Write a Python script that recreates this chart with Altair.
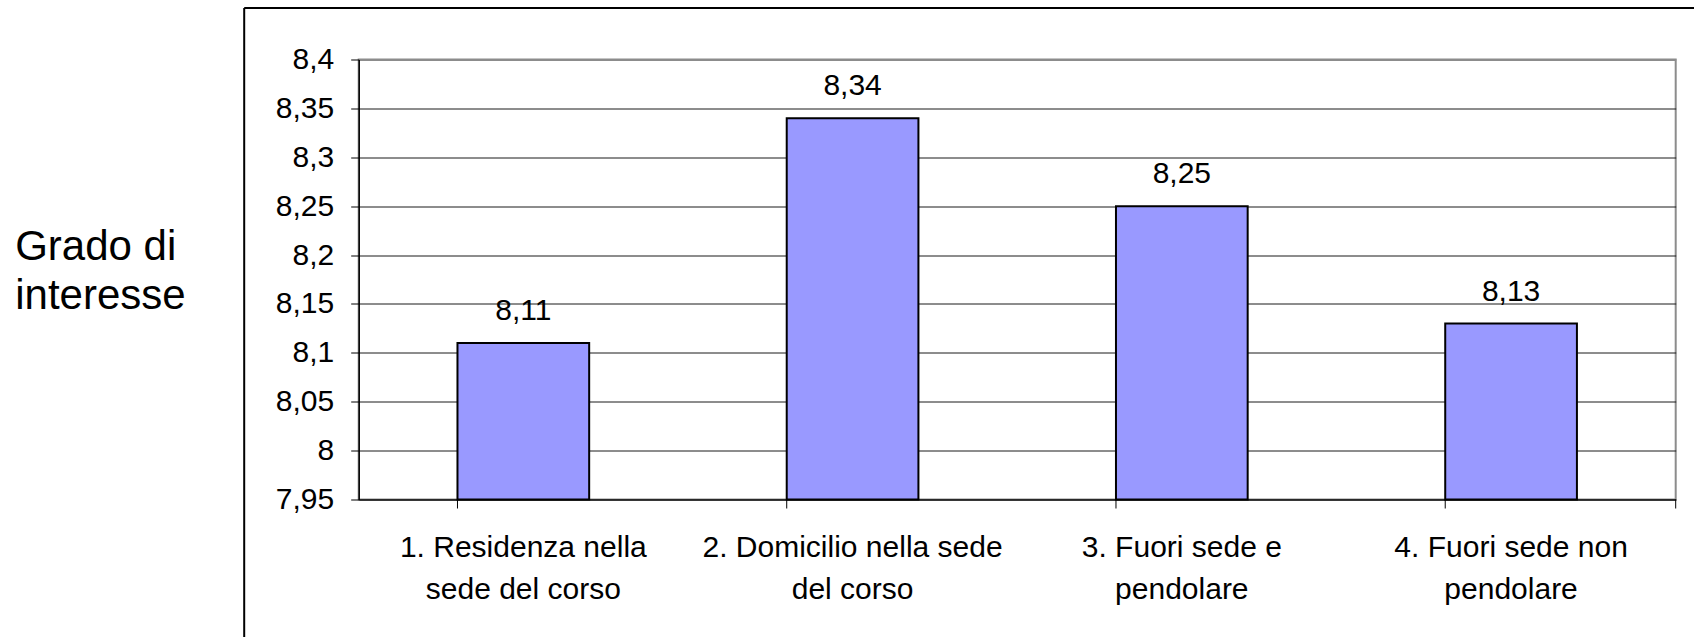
import altair as alt
import pandas as pd

# Average interest score by place of residence
categories = [
    "1. Residenza nella|sede del corso",
    "2. Domicilio nella sede|del corso",
    "3. Fuori sede e|pendolare",
    "4. Fuori sede non|pendolare",
]
values = [8.11, 8.34, 8.25, 8.13]
y_ticks = [7.95, 8.0, 8.05, 8.1, 8.15, 8.2, 8.25, 8.3, 8.35, 8.4]
y_min, y_max = 7.95, 8.4
y_title = ["Grado di", "interesse"]

FONT = "Liberation Sans"
FS = 30
W, H = 1317, 440

df = pd.DataFrame({"categoria": categories, "valore": values})
df["etichetta"] = [f"{v:.2f}".replace(".", ",") for v in values]

x_scale = alt.Scale(domain=categories, paddingInner=0.6, paddingOuter=0.3)
y_scale = alt.Scale(domain=[y_min, y_max], nice=False, zero=False)

base = alt.Chart(df)

bars = base.mark_bar(
    color="#9999FF", stroke="#000000", strokeWidth=2
).encode(
    x=alt.X(
        "categoria:N",
        scale=x_scale,
        sort=categories,
        axis=alt.Axis(
            title=None,
            labelAngle=0,
            labelExpr="split(datum.label, '|')",
            labelFont=FONT,
            labelFontSize=FS,
            labelColor="#000000",
            labelLineHeight=42,
            labelPadding=33,
            labelLimit=600,
            ticks=False,
            domainColor="#000000",
            domainWidth=1,
        ),
    ),
    y=alt.Y(
        "valore:Q",
        scale=y_scale,
        axis=alt.Axis(
            values=y_ticks,
            labelExpr="replace(format(datum.value, '.2~f'), '.', ',')",
            labelFont=FONT,
            labelFontSize=FS,
            labelColor="#000000",
            labelPadding=17,
            tickSize=8,
            tickColor="#000000",
            domainColor="#000000",
            domainWidth=1.5,
            grid=True,
            gridColor={
                "condition": {"test": "datum.value > 8.39", "value": "#8c8c8c"},
                "value": "#1a1a1a",
            },
            gridWidth={
                "condition": {"test": "datum.value > 8.39", "value": 2},
                "value": 1,
            },
            title=y_title,
            titleAngle=0,
            titleAlign="left",
            titleBaseline="alphabetic",
            titleX=-344,
            titleY=200,
            titleFont=FONT,
            titleFontSize=42,
            titleFontWeight="normal",
            titleColor="#000000",
            titleLineHeight=49,
        ),
    ),
    y2=alt.datum(y_min),
)

labels = base.mark_text(
    font=FONT, fontSize=FS, color="#000000", baseline="alphabetic", dy=-23
).encode(
    x=alt.X("categoria:N", scale=x_scale, sort=categories),
    y=alt.Y("valore:Q", scale=y_scale),
    text="etichetta:N",
)

# category boundary ticks below the x axis
ticks = base.mark_rule(color="#000000", strokeWidth=1).encode(
    x=alt.X("categoria:N", scale=x_scale, sort=categories, bandPosition=0),
    y=alt.value(H),
    y2=alt.value(H + 9),
)
end_tick = alt.Chart(pd.DataFrame({"k": [0]})).mark_rule(
    color="#000000", strokeWidth=1
).encode(x=alt.value(W), y=alt.value(H), y2=alt.value(H + 9))

# outer chart frame
frame_top = alt.Chart(pd.DataFrame({"k": [0]})).mark_rule(
    color="#000000", strokeWidth=2
).encode(x=alt.value(-114.5), x2=alt.value(W + 60), y=alt.value(-51.5))
frame_left = alt.Chart(pd.DataFrame({"k": [0]})).mark_rule(
    color="#000000", strokeWidth=2
).encode(x=alt.value(-114.5), y=alt.value(-51.5), y2=alt.value(H + 200))

chart = (
    alt.layer(bars, labels, ticks, end_tick, frame_top, frame_left)
    .properties(
        width=W,
        height=H,
        padding={"left": 358.7, "top": 59.5, "right": 18.3, "bottom": 137.5},
        autosize=alt.AutoSizeParams(type="none"),
        background="#ffffff",
    )
    .configure_view(stroke="#8c8c8c", strokeWidth=2)
)

chart.save("out.html", embed_options={"renderer": "svg", "actions": False})
